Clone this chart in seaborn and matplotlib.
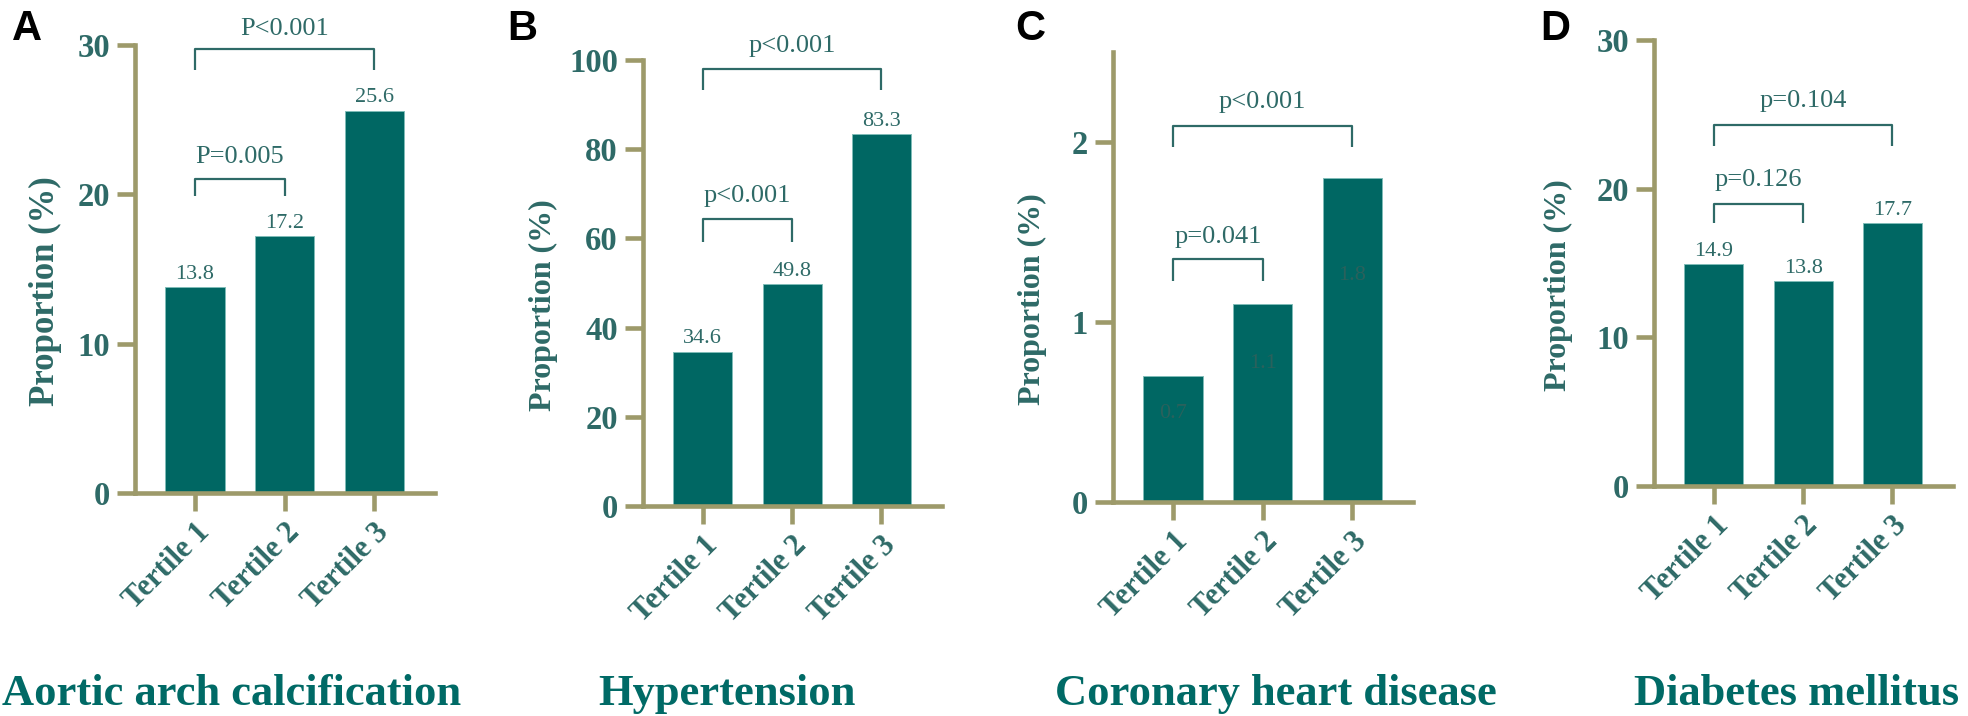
import matplotlib
matplotlib.use("Agg")
import matplotlib.pyplot as plt
import seaborn as sns

# ── data ──────────────────────────────────────────────
tertiles = ["Tertile 1", "Tertile 2", "Tertile 3"]
aac_pct = [13.8, 17.2, 25.6]
htn_pct = [34.6, 49.8, 83.3]
chd_pct = [0.7, 1.1, 1.8]
dm_pct  = [14.9, 13.8, 17.7]

titles  = ["Aortic arch calcification", "Hypertension",
           "Coronary heart disease", "Diabetes mellitus"]
letters = ["A", "B", "C", "D"]
p_1v2   = ["P=0.005", "p<0.001", "p=0.041", "p=0.126"]
p_1v3   = ["P<0.001", "p<0.001", "p<0.001", "p=0.104"]
y_max   = [30, 100, 2.5, 30]
y_ticks = [[0, 10, 20, 30], [0, 20, 40, 60, 80, 100], [0, 1, 2], [0, 10, 20, 30]]

# ── layout (pixels) ───────────────────────────────────
W, H = 1968, 716
boxes = [(135, 435, 45, 493), (643, 942, 60, 506),
         (1113, 1413, 52, 502), (1654, 1953, 40, 486)]     # left, right, top, bottom
# (top, leg, text) for the 1-vs-2 and 1-vs-3 brackets, in data units
br12 = [(21.0, 19.9, 22.1), (64.3, 59.3, 68.1), (1.35, 1.23, 1.44), (19.0, 17.7, 20.2)]
br13 = [(29.7, 28.3, 30.7), (98.0, 93.3, 101.9), (2.09, 1.97, 2.19), (24.3, 22.9, 25.5)]
ylab_x = [-0.297, -0.334, -0.27, -0.32]
ylab_fs = [25, 23, 23, 23]
title_cx = [232, 727, 1276, 1797]
letter_x = [12, 507, 1015, 1540]
inside = [False, False, True, False]

BAR   = "#006763"
EDGE  = "#7fbcb8"
OLIVE = "#9d9a6a"
TXT   = "#2e6a67"
TITLE = "#006a66"
INNER = "#2a615c"

sns.set_theme(style="white")
plt.rcParams["font.family"] = ["Liberation Serif", "DejaVu Serif"]

fig = plt.figure(figsize=(W / 100, H / 100), dpi=100)

series = [aac_pct, htn_pct, chd_pct, dm_pct]
for i, vals in enumerate(series):
    l, r, t, b = boxes[i]
    ax = fig.add_axes([l / W, 1 - b / H, (r - l) / W, (b - t) / H])
    sns.barplot(x=tertiles, y=vals, color=BAR, saturation=1, width=0.66,
                edgecolor=EDGE, linewidth=0.7, ax=ax)
    ax.set_xlim(-0.67, 2.68)
    ax.set_ylim(0, y_max[i])

    for s in ["top", "right"]:
        ax.spines[s].set_visible(False)
    for s in ["left", "bottom"]:
        ax.spines[s].set_color(OLIVE)
        ax.spines[s].set_linewidth(3.3)
    ax.tick_params(bottom=True, left=True, direction="out", length=13,
                   width=3.3, color=OLIVE)
    ax.tick_params(axis="y", pad=5)
    ax.tick_params(axis="x", pad=5)

    ax.set_yticks(y_ticks[i])
    ax.set_yticklabels([str(v) for v in y_ticks[i]], fontsize=23.5,
                       fontweight="bold", color=TXT)
    ax.set_xticks(range(3))
    ax.set_xticklabels(tertiles, rotation=45, ha="right", rotation_mode="anchor",
                       fontsize=22, fontweight="bold", color=TXT)
    ax.set_xlabel("")
    ax.set_ylabel("Proportion (%)", fontsize=ylab_fs[i], fontweight="bold",
                  color=TXT, va="center")
    ax.yaxis.set_label_coords(ylab_x[i], 0.45)

    # value labels
    for k, v in enumerate(vals):
        if inside[i]:
            ax.text(k, v * 0.7, f"{v}", ha="center", va="center",
                    fontsize=16, color=INNER)
        else:
            ax.annotate(f"{v}", (k, v), xytext=(0, 6), textcoords="offset points",
                        ha="center", va="baseline", fontsize=16, color=TXT)

    # significance brackets
    for (top, leg, ty), x1, txt in [(br12[i], 1, p_1v2[i]), (br13[i], 2, p_1v3[i])]:
        ax.plot([0, 0, x1, x1], [leg, top, top, leg], color=TXT, lw=1.6,
                clip_on=False, solid_capstyle="butt")
        ax.text(x1 / 2, ty, txt, ha="center", va="baseline", fontsize=19,
                color=TXT, clip_on=False)

    fig.text(title_cx[i] / W, 1 - 705 / H, titles[i], ha="center", va="baseline",
             fontsize=32, fontweight="bold", color=TITLE)
    fig.text(letter_x[i] / W, 1 - 40 / H, letters[i], ha="left", va="baseline",
             fontsize=30, fontweight="bold", color="black",
             family=["Liberation Sans", "DejaVu Sans"])

fig.savefig("out.png", dpi=100)
